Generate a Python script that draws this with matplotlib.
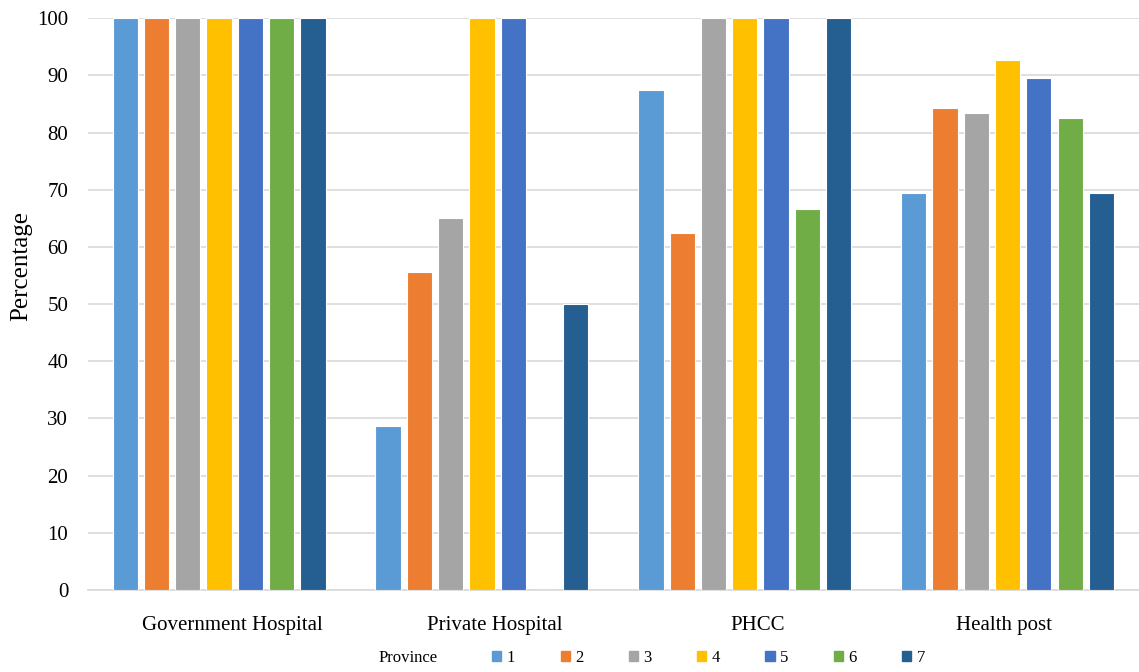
import numpy as np
import matplotlib.pyplot as plt
from matplotlib.patches import Patch

plt.rcParams['font.family'] = ['Liberation Serif', 'DejaVu Serif']

categories = ["Government Hospital", "Private Hospital", "PHCC", "Health post"]
provinces = ["1", "2", "3", "4", "5", "6", "7"]
values = [
    [100, 28.6, 87.5, 69.5],   # province 1
    [100, 55.6, 62.5, 84.2],   # province 2
    [100, 65.0, 100, 83.4],    # province 3
    [100, 100, 100, 92.7],     # province 4
    [100, 100, 100, 89.6],     # province 5
    [100, 0, 66.7, 82.5],      # province 6
    [100, 50.0, 100, 69.5],    # province 7
]
colors = ["#5B9BD5", "#ED7D31", "#A5A5A5", "#FFC000", "#4472C4", "#70AD47", "#255E91"]
# small nudges of the category labels, as in the original export
label_shift = [0.05, 0.05, 0.05, -0.015]

fig = plt.figure(figsize=(11.39, 6.72), dpi=100)
ax = fig.add_axes([0.077, 0.122, 0.923, 0.851])

x = np.arange(len(categories))
pitch = 0.119
width = 0.096
for i, (vals, c) in enumerate(zip(values, colors)):
    ax.bar(x + (i - 3) * pitch, vals, width, color=c, edgecolor="white",
           linewidth=0.8, zorder=3)

ax.set_xlim(-0.5, 3.5)
ax.set_ylim(0, 100)
ax.set_yticks(range(0, 101, 10))
ax.set_xticks(x + np.array(label_shift))
ax.set_xticklabels(categories, fontsize=15)
ax.tick_params(axis="y", length=0, pad=14, labelsize=15)
ax.tick_params(axis="x", length=0, pad=19)
ax.grid(axis="y", color="#D9D9D9", linewidth=1.2, zorder=0)
for s in ["top", "right", "left"]:
    ax.spines[s].set_visible(False)
ax.spines["bottom"].set_color("#D9D9D9")
ax.spines["bottom"].set_linewidth(1.2)
ax.set_ylabel("Percentage", fontsize=18)
ax.yaxis.set_label_coords(-0.053, 0.566)

fig.text(0.332, 0.021, "Province", fontsize=12, va="center")
handles = [Patch(color=c) for c in colors]
fig.legend(handles, provinces, loc="center left", bbox_to_anchor=(0.419, 0.021),
           ncol=7, frameon=False, fontsize=12, handlelength=0.55, handleheight=0.55,
           handletextpad=0.3, columnspacing=2.75)

fig.savefig("out.png", dpi=100)
